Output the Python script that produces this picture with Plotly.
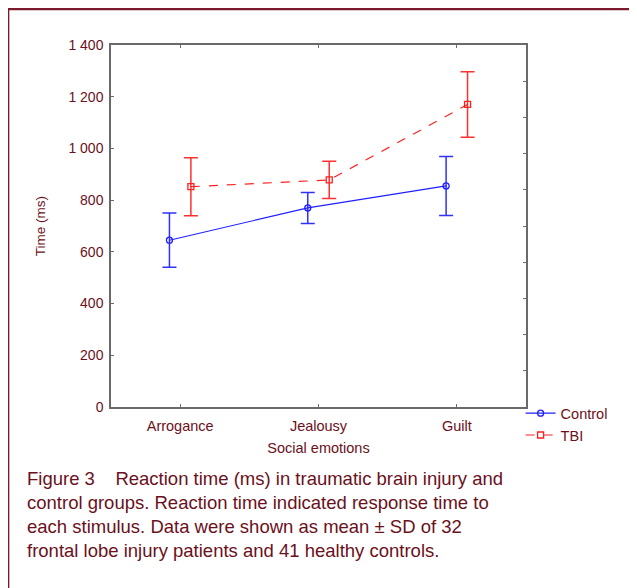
import plotly.graph_objects as go

categories = ["Arrogance", "Jealousy", "Guilt"]
control_mean = [645, 770, 855]
control_sd = [105, 60, 114]
tbi_mean = [852, 878, 1170]
tbi_sd = [112, 72, 127]
y_ticks = [0, 200, 400, 600, 800, 1000, 1200, 1400]

TXT = "#6b1020"
AX = "#6a6a6a"
FONT = "Liberation Sans, Arial, sans-serif"

fig = go.Figure()
fig.add_trace(go.Scatter(
    x=categories, y=control_mean, name="Control", mode="lines+markers",
    line=dict(color="#2020ff", width=1.2),
    marker=dict(symbol="circle-open", size=6, color="#2020ff", line=dict(width=1.3)),
    error_y=dict(type="data", array=control_sd, visible=True, color="#3030ff", thickness=1.5, width=7),
))
fig.add_trace(go.Scatter(
    x=categories, y=tbi_mean, name="TBI", mode="lines+markers",
    line=dict(color="#ff2020", width=1.2, dash="dash"),
    marker=dict(symbol="square-open", size=6, color="#ff2020", line=dict(width=1.3)),
    error_y=dict(type="data", array=tbi_sd, visible=True, color="#ff3030", thickness=1.5, width=7),
))
# empty trace to show the right-side tick axis
fig.add_trace(go.Scatter(x=[], y=[], yaxis="y2", showlegend=False, hoverinfo="skip"))

caption = ("Figure 3    Reaction time (ms) in traumatic brain injury and<br>"
           "control groups. Reaction time indicated response time to<br>"
           "each stimulus. Data were shown as mean ± SD of 32<br>"
           "frontal lobe injury patients and 41 healthy controls.")

fig.update_layout(
    width=629, height=580,
    margin=dict(l=103, r=111, t=37, b=181),
    paper_bgcolor="white", plot_bgcolor="white",
    font=dict(family=FONT, size=14, color=TXT),
    separators=". ",
    scattermode="group", scattergap=0.69,
    showlegend=True,
    legend=dict(x=0.987, y=0.027, xanchor="left", yanchor="top",
                font=dict(size=14.5, color=TXT), bgcolor="rgba(0,0,0,0)",
                itemwidth=30, tracegroupgap=0),
    xaxis=dict(
        type="category", range=[-0.5, 2.5],
        showline=True, linecolor=AX, linewidth=1.5, mirror="ticks",
        ticks="inside", ticklen=3, tickcolor=AX, showgrid=False, zeroline=False,
        tickfont=dict(size=14.5, color=TXT), ticklabelstandoff=5,
        title=dict(text="Social emotions", font=dict(size=14.5, color=TXT), standoff=10),
    ),
    yaxis=dict(
        range=[0, 1400], tickvals=y_ticks, tickformat=",d",
        showline=True, linecolor=AX, linewidth=1.5, mirror=True,
        ticks="inside", ticklen=3, tickcolor=AX, showgrid=False, zeroline=False,
        tickfont=dict(size=14, color=TXT), ticklabelstandoff=3,
        title=dict(text="Time (ms)", font=dict(size=13.5, color=TXT), standoff=20),
    ),
    yaxis2=dict(
        overlaying="y", side="right", range=[0, 1400], dtick=140,
        showticklabels=False, ticks="inside", ticklen=3, tickcolor=AX,
        showline=False, showgrid=False, zeroline=False,
    ),
    annotations=[dict(
        text=caption, xref="paper", yref="paper", x=-0.208, y=-0.163,
        xanchor="left", yanchor="top", align="left", showarrow=False,
        font=dict(size=18.5, color=TXT, family=FONT),
    )],
    shapes=[dict(
        type="rect", xref="paper", yref="paper",
        x0=-0.248, x1=1.6, y0=1.0995, y1=-1.0,
        line=dict(color="#7a1a2a", width=2.5), fillcolor="rgba(0,0,0,0)", layer="below",
    )],
)

fig.write_html("out.html")
